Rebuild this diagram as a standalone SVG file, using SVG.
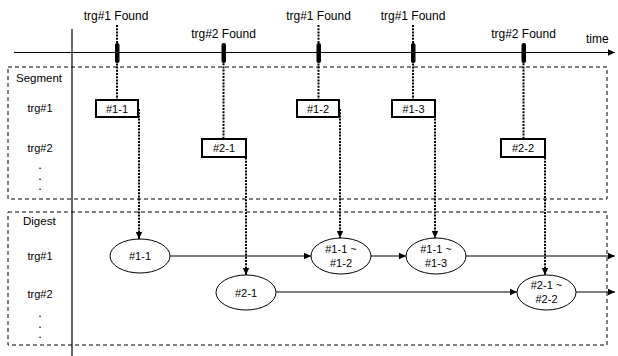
<svg xmlns="http://www.w3.org/2000/svg" width="618" height="356" viewBox="0 0 618 356">
<defs>
<marker id="ah" markerWidth="8" markerHeight="8" refX="7" refY="4" orient="auto" markerUnits="userSpaceOnUse"><path d="M0,0.8 L7,4 L0,7.2 z" fill="#000"/></marker>
<style>
text{font-family:"Liberation Sans",Arial,sans-serif;font-size:11px;fill:#000}
.c{text-anchor:middle}
.big{font-size:12px}
.mid{font-size:11.5px}
.d{font-size:9px;font-weight:bold}
.dash{fill:none;stroke:#000;stroke-width:1;stroke-dasharray:4,3}
.dot{fill:none;stroke:#000;stroke-width:2;stroke-dasharray:2,1.2}
.sol{fill:none;stroke:#000;stroke-width:1.2}
.box{fill:#fff;stroke:#000;stroke-width:2}
.ell{fill:#fff;stroke:#000;stroke-width:1}
.tick{fill:#000}
</style>
</defs>
<rect width="618" height="356" fill="#fff"/>
<g id="frames">
<rect class="dash" x="8" y="67" width="599" height="132"/>
<rect class="dash" x="8" y="212" width="599" height="133"/>
<text class="mid" x="16" y="82">Segment</text>
<text class="mid" x="23" y="225">Digest</text>
<text class="c" x="40" y="112">trg#1</text>
<text class="c" x="40" y="152">trg#2</text>
<text class="c d" x="40" y="169">.</text><text class="c d" x="40" y="179.5">.</text><text class="c d" x="40" y="190">.</text>
<text class="c" x="40" y="260">trg#1</text>
<text class="c" x="40" y="298">trg#2</text>
<text class="c d" x="40" y="317">.</text><text class="c d" x="40" y="327.5">.</text><text class="c d" x="40" y="338">.</text>
</g>
<g id="axis">
<line class="sol" x1="14" y1="52.5" x2="615" y2="52.5" marker-end="url(#ah)"/>
<line class="sol" x1="72" y1="29" x2="72" y2="356"/>
<text class="big" x="586" y="43">time</text>
</g>
<g id="connectors">
<line class="dot" x1="117" y1="25" x2="117" y2="100"/>
<line class="dot" x1="223.5" y1="60" x2="223.5" y2="139"/>
<line class="dot" x1="318.5" y1="25" x2="318.5" y2="100"/>
<line class="dot" x1="413" y1="25" x2="413" y2="100"/>
<line class="dot" x1="523.5" y1="60" x2="523.5" y2="139"/>
<line class="dot" x1="139" y1="109" x2="139" y2="239" marker-end="url(#ah)"/>
<line class="dot" x1="246" y1="148" x2="246" y2="275" marker-end="url(#ah)"/>
<line class="dot" x1="340" y1="109" x2="340" y2="238" marker-end="url(#ah)"/>
<line class="dot" x1="435" y1="109" x2="435" y2="238" marker-end="url(#ah)"/>
<line class="dot" x1="545" y1="148" x2="545" y2="275" marker-end="url(#ah)"/>
<line class="sol" x1="170" y1="256" x2="311" y2="256" marker-end="url(#ah)"/>
<line class="sol" x1="371" y1="256" x2="406" y2="256" marker-end="url(#ah)"/>
<line class="sol" x1="466" y1="256" x2="615" y2="256" marker-end="url(#ah)"/>
<line class="sol" x1="276" y1="292" x2="517" y2="292" marker-end="url(#ah)"/>
<line class="sol" x1="576" y1="292" x2="615" y2="292" marker-end="url(#ah)"/>
</g>
<g id="events">
<rect class="tick" x="115" y="43" width="4.5" height="20" rx="2"/>
<rect class="tick" x="221.5" y="43" width="4.5" height="20" rx="2"/>
<rect class="tick" x="316.5" y="43" width="4.5" height="20" rx="2"/>
<rect class="tick" x="411" y="43" width="4.5" height="20" rx="2"/>
<rect class="tick" x="521.5" y="43" width="4.5" height="20" rx="2"/>
<text class="c big" x="116" y="20">trg#1 Found</text>
<text class="c big" x="223.5" y="38">trg#2 Found</text>
<text class="c big" x="318.5" y="20">trg#1 Found</text>
<text class="c big" x="413" y="20">trg#1 Found</text>
<text class="c big" x="523.5" y="38">trg#2 Found</text>
</g>
<g id="seg11"><rect class="box" x="96" y="100" width="42" height="17"/><text class="c" x="117" y="112.5">#1-1</text></g>
<g id="seg21"><rect class="box" x="202" y="139" width="44" height="18"/><text class="c" x="224" y="152">#2-1</text></g>
<g id="seg12"><rect class="box" x="297" y="100" width="42" height="17"/><text class="c" x="318" y="112.5">#1-2</text></g>
<g id="seg13"><rect class="box" x="392" y="100" width="43" height="17"/><text class="c" x="413.5" y="112.5">#1-3</text></g>
<g id="seg22"><rect class="box" x="501" y="139" width="44" height="18"/><text class="c" x="523" y="152">#2-2</text></g>
<g id="dig11"><ellipse class="ell" cx="140" cy="256" rx="30" ry="17"/><text class="c" x="140" y="260">#1-1</text></g>
<g id="dig21"><ellipse class="ell" cx="246" cy="292.5" rx="30" ry="17.5"/><text class="c" x="246" y="296.5">#2-1</text></g>
<g id="dig112"><ellipse class="ell" cx="341" cy="256" rx="30" ry="18"/><text class="c" x="341" y="253">#1-1 ~</text><text class="c" x="341" y="267">#1-2</text></g>
<g id="dig113"><ellipse class="ell" cx="436" cy="256" rx="30" ry="18"/><text class="c" x="436" y="253">#1-1 ~</text><text class="c" x="436" y="267">#1-3</text></g>
<g id="dig212"><ellipse class="ell" cx="546.5" cy="292.5" rx="29.5" ry="17.5"/><text class="c" x="546.5" y="289">#2-1 ~</text><text class="c" x="546.5" y="303">#2-2</text></g>
</svg>
